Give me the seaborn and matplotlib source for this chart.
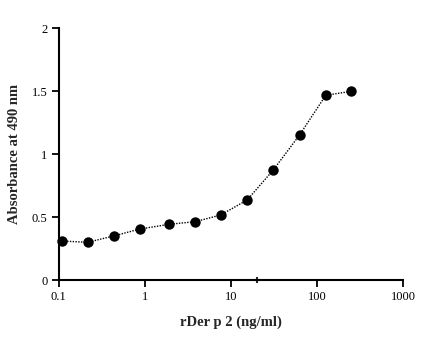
import matplotlib
matplotlib.use("Agg")
import matplotlib.pyplot as plt
import seaborn as sns
import pandas as pd

# rDer p 2 concentration (ng/ml) and absorbance readings at 490 nm
concentration = [0.108, 0.217, 0.434, 0.87, 1.92, 3.85, 7.6, 15.4, 31.0, 62.5, 126.0, 248.0]
absorbance = [0.31, 0.30, 0.35, 0.405, 0.443, 0.464, 0.517, 0.636, 0.875, 1.153, 1.469, 1.50]

x_ticks = [0.1, 1, 10, 100, 1000]
x_tick_labels = ["0.1", "1", "10", "100", "1000"]
y_ticks = [0, 0.5, 1, 1.5, 2]
y_tick_labels = ["0", "0.5", "1", "1.5", "2"]

df = pd.DataFrame({"conc": concentration, "abs": absorbance})

sns.set_theme(style="ticks")
plt.rcParams["font.family"] = ["Liberation Serif", "DejaVu Serif"]

fig = plt.figure(figsize=(4.29, 3.45), dpi=100)
ax = fig.add_axes([0.1368, 0.1884, 0.8032, 0.729])

sns.lineplot(data=df, x="conc", y="abs", ax=ax, color="black",
             linestyle=(0, (1, 1)), linewidth=1.0, marker="o",
             markersize=7.5, markeredgewidth=0, markerfacecolor="black",
             clip_on=False, zorder=3)

ax.set_xscale("log")
ax.set_xlim(0.1, 1000)
ax.set_ylim(0, 2)
ax.set_xticks(x_ticks)
ax.set_xticklabels(x_tick_labels)
ax.set_yticks(y_ticks)
ax.set_yticklabels(y_tick_labels)
ax.minorticks_off()
ax.set_xticks([20], minor=True)
ax.tick_params(axis="x", which="minor", direction="inout", length=5, width=1.5)

ax.tick_params(axis="both", which="major", direction="out", length=5, width=1.3,
               labelsize=9, colors="black", pad=3)

for side in ("top", "right"):
    ax.spines[side].set_visible(False)
for side in ("left", "bottom"):
    ax.spines[side].set_linewidth(1.5)
    ax.spines[side].set_color("black")

ax.set_xlabel("rDer p 2 (ng/ml)", fontsize=10.5, fontweight="bold", labelpad=9)
ax.set_ylabel("Absorbance at 490 nm", fontsize=10.5, fontweight="bold", labelpad=8)

fig.savefig("out.png", dpi=100, facecolor="white")
